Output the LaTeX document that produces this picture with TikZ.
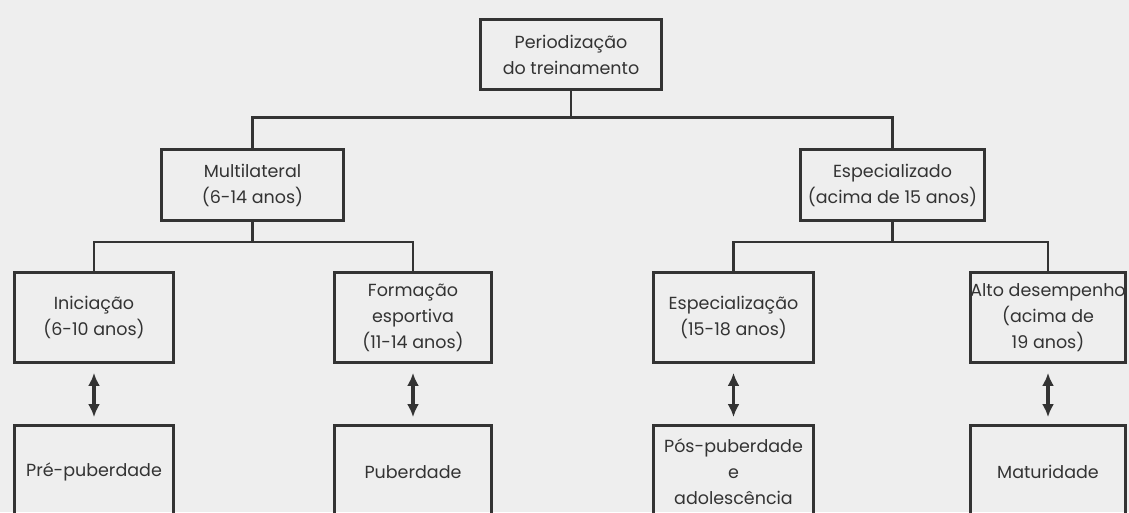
\documentclass[tikz,border=0pt]{standalone}
\usepackage{fontspec}
\setmainfont{Poppins}
\usetikzlibrary{arrows.meta}
\definecolor{tinta}{HTML}{333333}
\definecolor{papel}{HTML}{EEEEEE}

\begin{document}
\begin{tikzpicture}[x=1pt,y=-1pt,>={Latex[length=13pt,width=12pt]}]
		\tikzset{
			caixa/.style={draw=tinta,line width=2.8pt,align=center,inner sep=0pt,
				text=tinta,font=\fontsize{17.5}{26}\selectfont},
			fase/.style={caixa,minimum height=90pt},
			etapa/.style={caixa,minimum height=93pt},
			liga/.style={draw=tinta,line width=2.8pt},
			seta/.style={draw=tinta,line width=3.2pt,<->,shorten <=9pt,shorten >=7pt}
		}
		\clip (0,0) rectangle (1129,512);
		\fill[papel] (0,0) rectangle (1129,512);
		\node[caixa,minimum width=181pt,minimum height=70pt] (per) at (571,54.5)
											{Periodização\\do treinamento};
		\node[caixa,minimum width=182pt,minimum height=71pt] (multi) at (252.5,185)
											{Multilateral\\(6-14 anos)};
		\node[caixa,minimum width=184pt,minimum height=71pt] (espec) at (892.5,185)
											{Especializado\\(acima de 15 anos)};
		\node[fase,minimum width=159pt] (inic) at (94,317.5) {Iniciação\\(6-10 anos)};
		\node[fase,minimum width=157pt] (form) at (413,317.5) {Formação\\esportiva\\(11-14 anos)};
		\node[fase,minimum width=160pt] (espz) at (733.5,317.5) {Especialização\\(15-18 anos)};
		\node[fase,minimum width=155pt] (alto) at (1048,317.5) {Alto desempenho\\(acima de\\19 anos)};
		\node[etapa,minimum width=159pt] (pre) at (94,472) {Pré-puberdade};
		\node[etapa,minimum width=157pt] (pub) at (413,472) {Puberdade};
		\node[etapa,minimum width=160pt] (pos) at (733.5,472) {Pós-puberdade\\e\\adolescência};
		\node[etapa,minimum width=155pt] (mat) at (1048,472) {Maturidade};
		\draw[liga] (per.south) -- ++(0,26.5) -| (multi.north);
		\draw[liga] (per.south) -- ++(0,26.5) -| (espec.north);
		\draw[liga] (multi.south) -- ++(0,20) -| (inic.north);
		\draw[liga] (multi.south) -- ++(0,20) -| (form.north);
		\draw[liga] (espec.south) -- ++(0,20) -| (espz.north);
		\draw[liga] (espec.south) -- ++(0,20) -| (alto.north);
		\draw[seta] (inic) -- (pre);
		\draw[seta] (form) -- (pub);
		\draw[seta] (espz) -- (pos);
		\draw[seta] (alto) -- (mat);
\end{tikzpicture}
\end{document}
